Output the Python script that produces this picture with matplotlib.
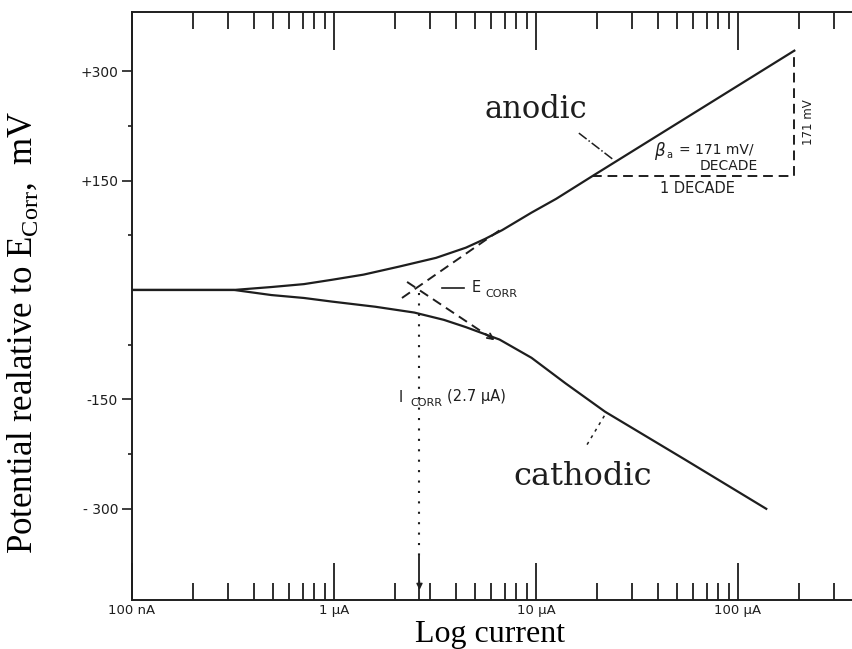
import matplotlib.pyplot as plt
from matplotlib.ticker import FixedLocator, FixedFormatter, LogLocator, NullFormatter

ink = '#1e1e1e'

# anodic branch, current (A) / potential vs Ecorr (mV)
anod_i = [1e-7, 3.2e-7, 4.9e-7, 7.1e-7, 9.8e-7, 1.4e-6, 2.1e-6, 3.2e-6, 4.5e-6,
          5.6e-6, 6.8e-6, 9.5e-6, 1.26e-5, 1.9e-5, 1.9e-4]
anod_e = [0, 0, 4, 8, 14, 21, 32, 44, 58, 70, 82, 106, 125, 156, 328]

# cathodic branch
cath_i = [1e-7, 3.2e-7, 4.9e-7, 7.1e-7, 9.8e-7, 1.6e-6, 2.5e-6, 3.5e-6, 4.5e-6,
          6.6e-6, 9.5e-6, 1.4e-5, 2.2e-5, 5.5e-5, 1.38e-4]
cath_e = [0, 0, -7, -11, -16, -23, -31, -41, -51, -68, -93, -128, -167, -233, -300]

# tafel extrapolations
taf_a_i = [2.17e-6, 6.95e-6]
taf_a_e = [-11, 86]
taf_c_i = [2.3e-6, 6.4e-6]
taf_c_e = [11, -71]

# slope triangle (1 decade / 171 mV)
tri_i = [1.9e-5, 1.9e-4, 1.9e-4]
tri_e = [156, 156, 328]

i_corr = 2.65e-6

ytick_vals = [300, 150, -150, -300]
ytick_txt = ['+300', '+150', '-150', '- 300']
xtick_vals = [1e-7, 1e-6, 1e-5, 1e-4]
xtick_txt = ['100 nA', '1 \u00b5A', '10 \u00b5A', '100 \u00b5A']

plt.rcParams['mathtext.fontset'] = 'custom'
plt.rcParams['mathtext.rm'] = 'Liberation Serif'

fig = plt.figure(figsize=(8.53, 6.49), dpi=100)
ax = fig.add_axes([132/853, 1 - 600/649, 1 - 132/853, 588/649])
ax.set_xscale('log')
ax.set_xlim(1e-7, 10**(-7 + 721/202))
ax.set_ylim(-425, 381)

ax.plot(anod_i, anod_e, color=ink, lw=1.6)
ax.plot(cath_i, cath_e, color=ink, lw=1.6)
ax.plot(taf_a_i, taf_a_e, color=ink, lw=1.4, ls=(0, (5, 3)))
ax.plot(taf_c_i, taf_c_e, color=ink, lw=1.4, ls=(0, (5, 3)))
ax.annotate('', xy=(taf_c_i[1], taf_c_e[1]), xytext=(5.9e-6, -64),
            arrowprops=dict(arrowstyle='->', color=ink, lw=1.3))
ax.plot(tri_i, tri_e, color=ink, lw=1.4, ls=(0, (5, 3)))

# Icorr dotted drop line
ax.plot([i_corr, i_corr], [-4, -365], color=ink, lw=1.5, ls=(0, (1, 4)))
ax.plot([i_corr, i_corr], [-365, -425], color=ink, lw=1.3)
ax.annotate('', xy=(i_corr, -415), xytext=(i_corr, -395),
            arrowprops=dict(arrowstyle='-|>', color=ink, lw=1.0, mutation_scale=9))

# leaders
ax.plot([1.63e-5, 2.43e-5], [215, 178], color=ink, lw=1.1, ls='-.')
ax.plot([1.79e-5, 2.24e-5], [-212, -167], color=ink, lw=1.1, ls=(0, (2, 3)))

# Ecorr label
ax.plot([3.43e-6, 4.41e-6], [3, 3], color=ink, lw=1.2)
ax.text(4.8e-6, 3, 'E', fontsize=10.5, color=ink, va='center', ha='left')
ax.text(5.6e-6, -5, 'CORR', fontsize=8, color=ink, va='center', ha='left')

# Icorr label
ax.text(2.1e-6, -147, 'I', fontsize=10.5, color=ink, va='center', ha='left')
ax.text(2.38e-6, -155, 'CORR', fontsize=8, color=ink, va='center', ha='left')
ax.text(3.63e-6, -146, '(2.7 \u00b5A)', fontsize=10.5, color=ink, va='center', ha='left')

# slope labels
ax.text(3.84e-5, 190, '\u03b2', fontsize=12, style='italic', color=ink, va='center', ha='left')
ax.text(4.4e-5, 185, 'a', fontsize=7, color=ink, va='center', ha='left')
ax.text(5.1e-5, 192, '= 171 mV/', fontsize=10, color=ink, va='center', ha='left')
ax.text(9.0e-5, 170, 'DECADE', fontsize=10, color=ink, va='center', ha='center')
ax.text(6.3e-5, 139, '1 DECADE', fontsize=10.5, color=ink, va='center', ha='center')
ax.text(2.24e-4, 230, '171 mV', fontsize=8.5, color=ink, va='center', ha='center', rotation=90)

ax.text(1.0e-5, 247, 'anodic', family='DejaVu Serif', fontsize=22, color=ink,
        va='center', ha='center')
ax.text(1.7e-5, -256, 'cathodic', family='DejaVu Serif', fontsize=23, color=ink,
        va='center', ha='center')

# axes styling
for s in ['left', 'top', 'bottom']:
    ax.spines[s].set_color(ink)
    ax.spines[s].set_linewidth(1.4)
ax.spines['right'].set_visible(False)

ax.xaxis.set_major_locator(FixedLocator(xtick_vals))
ax.xaxis.set_major_formatter(FixedFormatter(xtick_txt))
ax.xaxis.set_minor_locator(LogLocator(base=10, subs=range(2, 10)))
ax.xaxis.set_minor_formatter(NullFormatter())
ax.tick_params(axis='x', which='both', direction='in', top=True, bottom=True,
               color=ink, width=1.3, labelsize=9.5, labelcolor=ink, pad=3)
ax.tick_params(axis='x', which='major', length=27)
ax.tick_params(axis='x', which='minor', length=12)

ax.yaxis.set_major_locator(FixedLocator(ytick_vals))
ax.yaxis.set_major_formatter(FixedFormatter(ytick_txt))
ax.yaxis.set_minor_locator(FixedLocator([225, 75, -75, -225]))
ax.tick_params(axis='y', which='both', direction='out', color=ink, width=1.2,
               labelsize=10, labelcolor=ink, pad=3)
ax.tick_params(axis='y', which='major', length=7)
ax.tick_params(axis='y', which='minor', length=3)

fig.text(23/853, 1 - 332/649, r'Potential realative to E$_{\mathrm{Corr}}$,  mV',
         family='Liberation Serif', fontsize=25, rotation=90, ha='center', va='center')
fig.text(490/853, 1 - 642/649, 'Log current', family='Liberation Serif', fontsize=23,
         ha='center', va='baseline')

fig.savefig('out.png', dpi=100)
